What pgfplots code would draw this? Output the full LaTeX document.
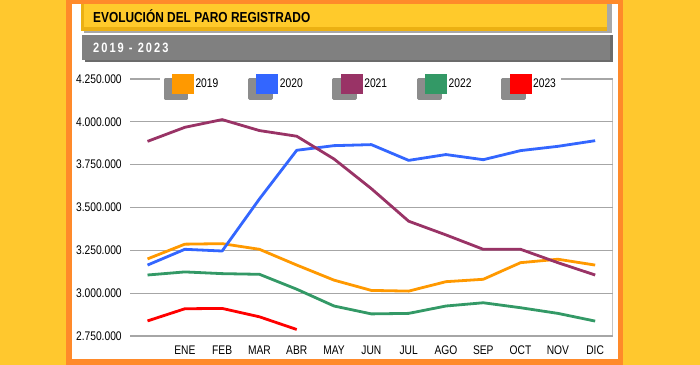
\documentclass[border=0pt]{standalone}
\usepackage{pgfplots}
\pgfplotsset{compat=1.18}
\usepackage{fontspec}
\setmainfont{Liberation Sans}[FakeStretch=0.82]
\pgfdeclarelayer{bg}
\pgfplotsset{
  layers/mylayers/.define layer set={bg, axis background, axis grid, axis ticks, axis lines, axis tick labels, pre main, main, axis descriptions, axis foreground}{},
  set layers=mylayers,
}
\definecolor{bgyellow}{HTML}{FFC82E}
\definecolor{borderorange}{HTML}{FF8A2A}
\definecolor{titleyellow}{HTML}{FFCA2B}
\definecolor{titledark}{HTML}{EBB013}
\definecolor{titleshadow}{HTML}{A8A8A8}
\definecolor{graybar}{HTML}{808080}
\definecolor{grayshadow}{HTML}{6B6B6B}
\definecolor{gridgray}{HTML}{A6A6A6}
\definecolor{legshadow}{HTML}{8C8C8C}
\definecolor{c2019}{HTML}{FF9900}
\definecolor{c2020}{HTML}{3366FF}
\definecolor{c2021}{HTML}{993366}
\definecolor{c2022}{HTML}{339966}
\definecolor{c2023}{HTML}{FF0000}

\pgfplotstableread{
x y
0 3200000
1 3286000
2 3289000
3 3256000
4 3164000
5 3076000
6 3016000
7 3012000
8 3067000
9 3081000
10 3178000
11 3198000
12 3164000
}\dataA
\pgfplotstableread{
x y
0 3164000
1 3256000
2 3246000
3 3550000
4 3834000
5 3861000
6 3867000
7 3775000
8 3809000
9 3779000
10 3832000
11 3857000
12 3890000
}\dataB
\pgfplotstableread{
x y
0 3886000
1 3968000
2 4013000
3 3949000
4 3916000
5 3783000
6 3610000
7 3420000
8 3340000
9 3256000
10 3256000
11 3178000
12 3106000
}\dataC
\pgfplotstableread{
x y
0 3106000
1 3124000
2 3114000
3 3110000
4 3023000
5 2925000
6 2879000
7 2882000
8 2925000
9 2944000
10 2915000
11 2882000
12 2837000
}\dataD
\pgfplotstableread{
x y
0 2838000
1 2909000
2 2911000
3 2862000
4 2788000
}\dataE

\begin{document}
\begin{tikzpicture}
\begin{pgfonlayer}{bg}
\fill[bgyellow] (0,0) rectangle (700bp,365bp);
\fill[borderorange] (66bp,0) rectangle (623bp,365bp);
\fill[white] (72bp,6bp) rectangle (618bp,361bp);
% title bar
\fill[titleshadow] (84bp,332bp) rectangle (612bp,361bp);
\fill[titledark] (81bp,334bp) rectangle (607bp,361bp);
\fill[titleyellow] (84bp,338bp) rectangle (607bp,361bp);
\node[anchor=base west, inner sep=0pt, font=\bfseries\fontsize{14.5bp}{17bp}\selectfont] at (93bp,342.3bp) {EVOLUCIÓN DEL PARO REGISTRADO};
% gray bar
\fill[grayshadow] (85bp,303bp) rectangle (613bp,330bp);
\fill[graybar] (82bp,305bp) rectangle (610bp,330bp);
\node[anchor=base west, inner sep=0pt, text=white, font=\bfseries\fontsize{13.5bp}{16bp}\selectfont\addfontfeature{LetterSpace=15}] at (93bp,312bp) {2019 - 2023};
\end{pgfonlayer}

\begin{axis}[
  at={(130bp,29bp)}, anchor=south west,
  scale only axis, width=482.7bp, height=257bp,
  xmin=-0.47, xmax=12.47, ymin=2750000, ymax=4250000,
  xtick={1,2,3,4,5,6,7,8,9,10,11,12},
  xticklabels={ENE,FEB,MAR,ABR,MAY,JUN,JUL,AGO,SEP,OCT,NOV,DIC},
  ytick={2750000,3000000,3250000,3500000,3750000,4000000,4250000},
  major tick length=0pt,
  axis line style={draw=none},
  ymajorgrids, grid style={gridgray, line width=1.3bp},
  scaled y ticks=false,
  yticklabel style={/pgf/number format/fixed, /pgf/number format/precision=0, /pgf/number format/1000 sep={.}, xshift=-4.8bp},
  /pgf/number format/assume math mode=true,
  tick label style={font=\fontsize{12.5bp}{14bp}\selectfont},
  xticklabel style={yshift=-6.5bp},
  legend columns=5,
  legend cell align=left,
  legend style={at={(0.062,0.969)}, anchor=west, draw=none, fill=white,
    inner xsep=3.5bp, inner ysep=3bp,
    font=\fontsize{12.5bp}{14bp}\selectfont,
    nodes={inner sep=1.5bp},
    /tikz/every even column/.append style={column sep=28.2bp}},
  legend image code/.code={
    \fill[legshadow] (0bp,-14bp) rectangle (22bp,5bp);
    \fill[#1, draw=none] (7bp,-10bp) rectangle (29bp,10bp);
  },
  every axis plot/.append style={line width=2.8bp, line join=round, mark=none},
]
\draw[gridgray, line width=1.3bp] (rel axis cs:0,1) -- (rel axis cs:1,1) -- (rel axis cs:1,0);
\addplot[c2019] table[x=x,y=y] {\dataA};
\addplot[c2020] table[x=x,y=y] {\dataB};
\addplot[c2021] table[x=x,y=y] {\dataC};
\addplot[c2022] table[x=x,y=y] {\dataD};
\addplot[c2023] table[x=x,y=y] {\dataE};
\legend{2019,2020,2021,2022,2023}
\end{axis}
\pgfresetboundingbox
\path[use as bounding box] (0,0) rectangle (700bp,365bp);
\end{tikzpicture}
\end{document}
